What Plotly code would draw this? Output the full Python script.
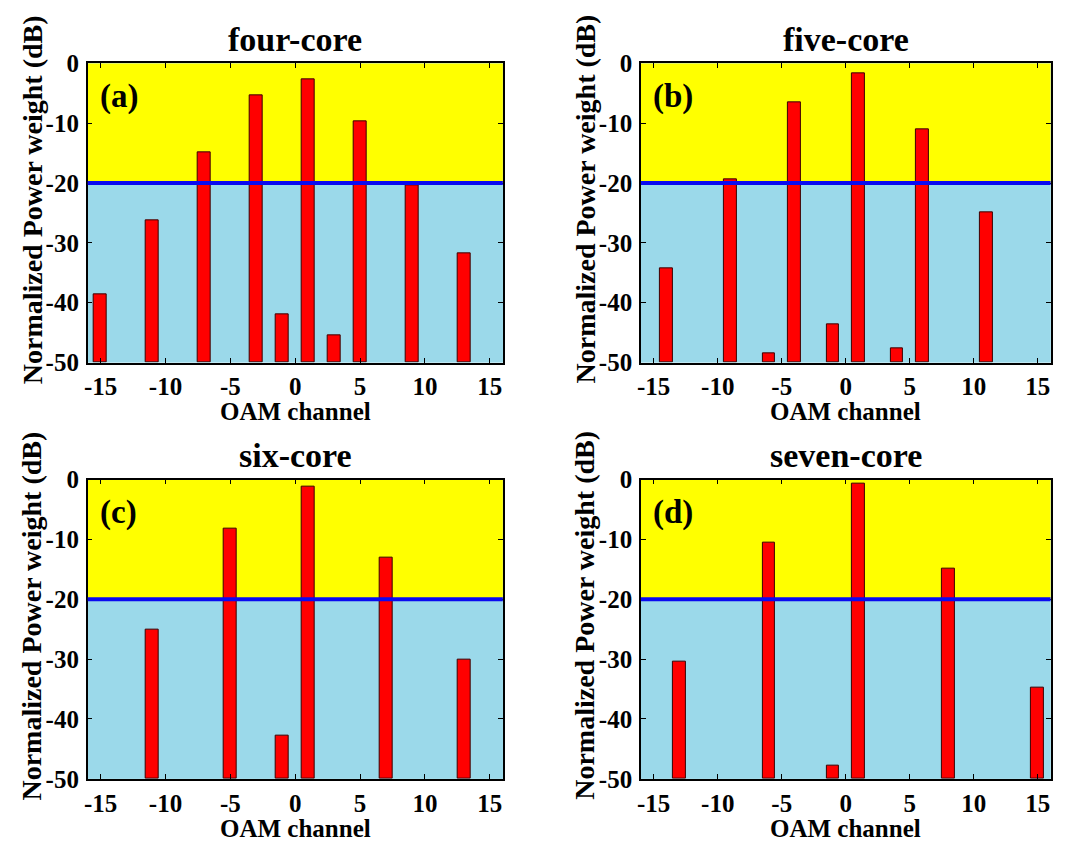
import plotly.graph_objects as go
import numpy as np

# ---- data ----
titles = ["four-core", "five-core", "six-core", "seven-core"]
labels = ["(a)", "(b)", "(c)", "(d)"]

ch_four = [-15, -11, -7, -3, -1, 1, 3, 5, 9, 13]
pw_four = [-38.6, -26.3, -14.9, -5.4, -42.0, -2.7, -45.4, -9.7, -20.4, -31.8]

ch_five = [-14, -9, -6, -4, -1, 1, 4, 6, 11]
pw_five = [-34.2, -19.4, -48.5, -6.5, -43.7, -1.7, -47.7, -11.1, -24.9]

ch_six = [-11, -5, -1, 1, 7, 13]
pw_six = [-25.0, -8.2, -42.8, -1.1, -13.0, -30.1]

ch_seven = [-13, -6, -1, 1, 8, 15]
pw_seven = [-30.4, -10.6, -47.8, -0.6, -14.9, -34.7]

x_ticks = [-15, -10, -5, 0, 5, 10, 15]
x_tick_labels = ["-15", "-10", "-5", "0", "5", "10", "15"]
y_ticks = [-50, -40, -30, -20, -10, 0]
y_tick_labels = ["-50", "-40", "-30", "-20", "-10", "0"]
threshold = -20
y_floor = -50

channels = [ch_four, ch_five, ch_six, ch_seven]
powers = [pw_four, pw_five, pw_six, pw_seven]

W, H = 1066, 848
# pixel boxes of plot areas: (left, top, right, bottom)
boxes = [(84, 52, 500.7, 361), (639.3, 52, 1050.5, 361),
         (84, 482, 500.7, 791), (639.3, 482, 1050.5, 791)]

FONT = "Liberation Serif"
YELLOW = "#FFFF00"
LIGHTBLUE = "#9BD9EA"
LINEBLUE = "#0A0AF0"

fig = go.Figure()
annotations = []
shapes = []

for i in range(4):
    xa = "x" if i == 0 else f"x{i+1}"
    ya = "y" if i == 0 else f"y{i+1}"
    l, t, r, b = boxes[i]
    xdom = [l / W, r / W]
    ydom = [1 - b / H, 1 - t / H]
    vals = np.array(powers[i])
    fig.add_trace(go.Bar(
        x=channels[i], y=vals - y_floor, base=y_floor, width=1.0,
        marker=dict(color="#FF0000", line=dict(color="#3a0000", width=1)),
        xaxis=xa, yaxis=ya, showlegend=False,
    ))
    axis_common = dict(showline=True, linecolor="black", linewidth=1.5, mirror="ticks",
                       ticks="inside", ticklen=5, tickwidth=1.2, tickcolor="black",
                       showgrid=False, zeroline=False,
                       tickfont=dict(family=FONT, size=25, color="black", weight="bold"))
    fig.layout[f"xaxis{'' if i == 0 else i+1}"] = dict(
        domain=xdom, range=[-16, 16], tickvals=x_ticks, ticktext=x_tick_labels,
        anchor=ya, ticklabelstandoff=1, **axis_common)
    fig.layout[f"yaxis{'' if i == 0 else i+1}"] = dict(
        domain=ydom, range=[-50, 0], tickvals=y_ticks, ticktext=y_tick_labels,
        anchor=xa, ticklabelstandoff=2, **axis_common)

    xr = f"{xa} domain"
    yr = f"{ya} domain"
    shapes.append(dict(type="rect", xref=xr, yref=ya, x0=0, x1=1, y0=threshold, y1=0,
                       fillcolor=YELLOW, line=dict(width=0), layer="below"))
    shapes.append(dict(type="rect", xref=xr, yref=ya, x0=0, x1=1, y0=y_floor, y1=threshold,
                       fillcolor=LIGHTBLUE, line=dict(width=0), layer="below"))
    shapes.append(dict(type="line", xref=xr, yref=ya, x0=0, x1=1, y0=threshold, y1=threshold,
                       line=dict(color=LINEBLUE, width=4), layer="above"))

    cx = (l + r) / 2
    annotations.append(dict(text=titles[i], x=cx / W, y=1 - (t - 25) / H, xref="paper", yref="paper",
                            xanchor="center", yanchor="middle", showarrow=False,
                            font=dict(family=FONT, size=34, color="black", weight="bold")))
    annotations.append(dict(text=labels[i], x=0.025, y=0.89, xref=xr, yref=yr,
                            xanchor="left", yanchor="middle", showarrow=False,
                            font=dict(family=FONT, size=33, color="black", weight="bold")))
    annotations.append(dict(text="OAM channel", x=cx / W, y=1 - (b + 36) / H,
                            xref="paper", yref="paper",
                            xanchor="center", yanchor="top", showarrow=False, borderpad=0,
                            font=dict(family=FONT, size=25, color="black", weight="bold")))
    annotations.append(dict(text="Normalized Power weight (dB)", x=(l - 56) / W,
                            y=1 - ((t + b) / 2 - 14) / H,
                            xref="paper", yref="paper", textangle=-90,
                            xanchor="center", yanchor="middle", showarrow=False,
                            font=dict(family=FONT, size=28, color="black", weight="bold")))

fig.update_layout(width=W, height=H, margin=dict(l=0, r=0, t=0, b=0),
                  paper_bgcolor="white", plot_bgcolor=LIGHTBLUE,
                  annotations=annotations, shapes=shapes, bargap=0)

fig.write_html("out.html")
